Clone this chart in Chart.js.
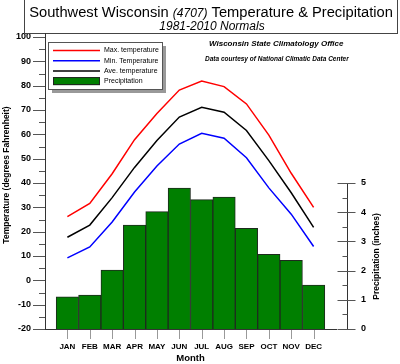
<!DOCTYPE html>
<html>
<head>
<meta charset="utf-8">
<script src="https://cdn.jsdelivr.net/npm/chart.js@4"></script>
<style>
  html, body { margin: 0; padding: 0; background: #fff; }
  #wrap { position: relative; width: 400px; height: 364px; }
</style>
</head>
<body>
<div id="wrap"><canvas id="chart" width="400" height="364"></canvas></div>
<script>
const months = ['JAN', 'FEB', 'MAR', 'APR', 'MAY', 'JUN', 'JUL', 'AUG', 'SEP', 'OCT', 'NOV', 'DEC'];
const maxTemp = [26.2, 31.6, 43.8, 57.8, 68.6, 78.2, 81.9, 79.6, 72.5, 59.7, 44.0, 30.0];
const minTemp = [9.2, 13.7, 24.0, 36.3, 47.0, 56.0, 60.4, 58.4, 50.4, 38.0, 27.2, 13.9];
const aveTemp = [17.7, 22.7, 34.0, 46.4, 57.5, 67.1, 71.1, 69.1, 61.6, 49.2, 36.0, 21.8];
const precip = [1.10, 1.16, 2.02, 3.56, 4.02, 4.83, 4.43, 4.52, 3.45, 2.56, 2.35, 1.50];

const FONT = "'Liberation Sans', Arial, sans-serif";
Chart.defaults.font.family = FONT;
Chart.defaults.color = '#000';

// pad one empty slot each side so the month bars sit inside the axis
const pad = arr => [null, ...arr, null];

// ticks, right axis line, titles, legend box
const decor = {
  id: 'decor',
  afterDraw(chart) {
    const ctx = chart.ctx;
    const x = chart.scales.x, y = chart.scales.y, y2 = chart.scales.y2;
    const area = chart.chartArea;
    ctx.save();

    // title box
    ctx.strokeStyle = '#444';
    ctx.lineWidth = 1;
    ctx.strokeRect(24.5, -1.5, 373, 35);
    ctx.fillStyle = '#000';
    ctx.textBaseline = 'alphabetic';
    const p1 = 'Southwest Wisconsin ', p2 = '(4707)', p3 = ' Temperature & Precipitation';
    ctx.font = '14.7px ' + FONT;
    const w1 = ctx.measureText(p1).width, w3 = ctx.measureText(p3).width;
    ctx.font = 'italic 12px ' + FONT;
    const w2 = ctx.measureText(p2).width;
    let tx = 211 - (w1 + w2 + w3) / 2;
    ctx.font = '14.7px ' + FONT;
    ctx.fillText(p1, tx, 17);
    ctx.font = 'italic 12px ' + FONT;
    ctx.fillText(p2, tx + w1, 17);
    ctx.font = '14.7px ' + FONT;
    ctx.fillText(p3, tx + w1 + w2, 17);
    ctx.font = 'italic 12px ' + FONT;
    ctx.textAlign = 'center';
    ctx.fillText('1981-2010 Normals', 212, 29.5);

    // credits
    ctx.textAlign = 'left';
    ctx.font = 'bold italic 8px ' + FONT;
    ctx.fillText('Wisconsin State Climatology Office', 209, 45.5);
    ctx.font = 'bold italic 6.5px ' + FONT;
    ctx.fillText('Data courtesy of National Climatic Data Center', 205, 61);

    // left axis line reaches the title box
    ctx.strokeStyle = '#333';
    ctx.beginPath();
    ctx.moveTo(area.left + 0.5, 33);
    ctx.lineTo(area.left + 0.5, area.top);
    ctx.stroke();

    // left ticks every 5, longer every 10
    ctx.strokeStyle = '#555';
    for (let v = y.min; v <= y.max; v += 5) {
      const py = Math.round(y.getPixelForValue(v)) + 0.5;
      const len = v % 10 === 0 ? 12 : 6;
      ctx.beginPath();
      ctx.moveTo(area.left - len, py);
      ctx.lineTo(area.left, py);
      ctx.stroke();
    }

    // bottom ticks under each month
    ctx.strokeStyle = '#999';
    months.forEach((m, i) => {
      const px = Math.round(x.getPixelForValue(i + 1)) + 0.5;
      ctx.beginPath();
      ctx.moveTo(px, area.bottom + 1);
      ctx.lineTo(px, area.bottom + 10);
      ctx.stroke();
    });

    // right axis, only 0 to 5 inches
    const ax = area.right + 11.5;
    const top5 = Math.round(y2.getPixelForValue(5)) + 0.5;
    const bot0 = Math.round(y2.getPixelForValue(0)) + 0.5;
    ctx.strokeStyle = '#333';
    ctx.beginPath();
    ctx.moveTo(ax, top5);
    ctx.lineTo(ax, bot0);
    ctx.stroke();
    ctx.strokeStyle = '#555';
    for (let v = 0; v <= 5; v += 0.5) {
      const py = Math.round(y2.getPixelForValue(v)) + 0.5;
      ctx.beginPath();
      if (v % 1 === 0) {
        ctx.moveTo(ax - 10, py);
        ctx.lineTo(ax + 8, py);
      } else {
        ctx.moveTo(ax - 5, py);
        ctx.lineTo(ax, py);
      }
      ctx.stroke();
    }

    // axis titles, both read bottom to top
    ctx.fillStyle = '#000';
    ctx.textAlign = 'center';
    ctx.textBaseline = 'middle';
    ctx.font = 'bold 8.5px ' + FONT;
    ctx.save();
    ctx.translate(7, 175);
    ctx.rotate(-Math.PI / 2);
    ctx.fillText('Temperature (degrees Fahrenheit)', 0, 0);
    ctx.restore();
    ctx.save();
    ctx.translate(377, (top5 + bot0) / 2);
    ctx.rotate(-Math.PI / 2);
    ctx.fillText('Precipitation (inches)', 0, 0);
    ctx.restore();

    // legend box with shadow
    const lx = 48, ly = 42, lw = 114, lh = 47;
    ctx.fillStyle = '#999';
    ctx.fillRect(lx + 4, ly + 4, lw, lh);
    ctx.fillStyle = '#fff';
    ctx.fillRect(lx, ly, lw, lh);
    ctx.strokeStyle = '#555';
    ctx.strokeRect(lx + 0.5, ly + 0.5, lw, lh);
    ctx.font = '7px ' + FONT;
    ctx.textAlign = 'left';
    const rows = [0, 1, 2, 3].map(i => chart.data.datasets[i]);
    rows.forEach((ds, i) => {
      const ry = 50.5 + i * 10.2;
      if (ds.type === 'line') {
        ctx.strokeStyle = ds.borderColor;
        ctx.lineWidth = 1.5;
        ctx.beginPath();
        ctx.moveTo(53, ry);
        ctx.lineTo(100, ry);
        ctx.stroke();
      } else {
        ctx.fillStyle = ds.backgroundColor;
        ctx.fillRect(53, ry - 4, 47, 8);
        ctx.strokeStyle = '#222';
        ctx.lineWidth = 1;
        ctx.strokeRect(53.5, ry - 4 + 0.5, 46, 7);
      }
      ctx.fillStyle = '#000';
      ctx.fillText(ds.label, 104, ry);
    });

    ctx.restore();
  }
};

new Chart(document.getElementById('chart'), {
  type: 'bar',
  data: {
    labels: ['', ...months, ''],
    datasets: [
      { type: 'line', label: 'Max. temperature', data: pad(maxTemp), yAxisID: 'y',
        borderColor: '#ff0000', borderWidth: 1.5, pointRadius: 0, tension: 0, order: 1 },
      { type: 'line', label: 'Min. Temperature', data: pad(minTemp), yAxisID: 'y',
        borderColor: '#0000ff', borderWidth: 1.5, pointRadius: 0, tension: 0, order: 1 },
      { type: 'line', label: 'Ave. temperature', data: pad(aveTemp), yAxisID: 'y',
        borderColor: '#000000', borderWidth: 1.5, pointRadius: 0, tension: 0, order: 1 },
      { type: 'bar', label: 'Precipitation', data: pad(precip), yAxisID: 'y2',
        backgroundColor: '#007f00', borderColor: '#1e2a1e', borderWidth: 1,
        barPercentage: 1, categoryPercentage: 1, order: 2 }
    ]
  },
  options: {
    responsive: false,
    animation: false,
    layout: { padding: { top: 37, left: 0, right: 0, bottom: 0 } },
    plugins: { legend: { display: false }, tooltip: { enabled: false } },
    scales: {
      x: {
        offset: false,
        grid: { display: false, drawTicks: false },
        border: { display: true, color: '#333', width: 1 },
        ticks: { autoSkip: false, maxRotation: 0, padding: 13, font: { size: 8, weight: 'bold' } },
        title: { display: true, text: 'Month', padding: { top: 0, bottom: 0 }, font: { size: 9.5, weight: 'bold' } },
        afterFit: s => { s.height = 35; }
      },
      y: {
        position: 'left',
        min: -20, max: 100,
        grid: { display: false, drawTicks: false },
        border: { display: true, color: '#333', width: 1 },
        ticks: { stepSize: 10, padding: 14, font: { size: 9, weight: 'bold' } },
        afterFit: s => { s.width = 45; }
      },
      y2: {
        position: 'right',
        min: 0, max: 10,
        grid: { display: false, drawTicks: false },
        border: { display: false },
        ticks: { stepSize: 1, padding: 25, font: { size: 9, weight: 'bold' },
          callback: v => (v <= 5 ? v : '') },
        afterFit: s => { s.width = 64; }
      }
    }
  },
  plugins: [decor]
});
</script>
</body>
</html>
